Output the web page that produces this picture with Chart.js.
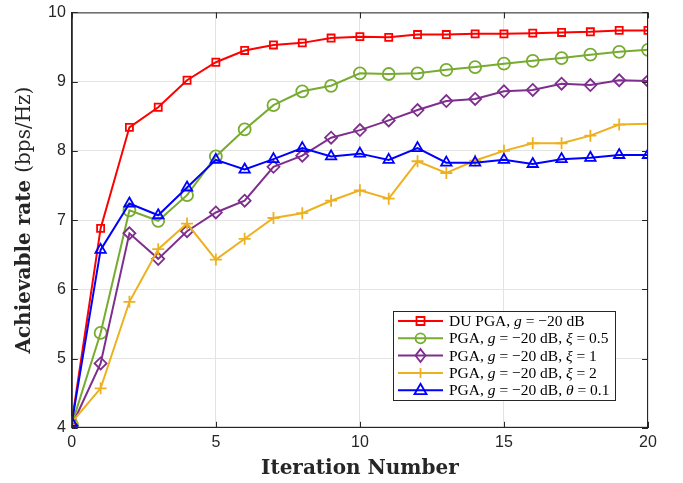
<!DOCTYPE html>
<html>
<head>
<meta charset="utf-8">
<script src="https://cdn.jsdelivr.net/npm/chart.js@4.4.1/dist/chart.umd.min.js"></script>
<style>
  html, body { margin: 0; padding: 0; background: #fff; }
  #wrap { width: 683px; height: 483px; }
</style>
</head>
<body>
<div id="wrap"><canvas id="canvas" width="683" height="483"></canvas></div>
<script>
const iterations = [0, 1, 2, 3, 4, 5, 6, 7, 8, 9, 10, 11, 12, 13, 14, 15, 16, 17, 18, 19, 20];

const duPga = [4.08, 6.88, 8.34, 8.63, 9.02, 9.28, 9.45, 9.53, 9.56, 9.63, 9.65, 9.64, 9.68, 9.68, 9.69, 9.69, 9.70, 9.71, 9.72, 9.74, 9.74];
const pgaXi05 = [4.05, 5.37, 7.14, 6.99, 7.36, 7.92, 8.31, 8.66, 8.86, 8.94, 9.12, 9.11, 9.12, 9.17, 9.21, 9.26, 9.30, 9.34, 9.39, 9.43, 9.46];
const pgaXi1 = [4.03, 4.93, 6.81, 6.44, 6.84, 7.11, 7.28, 7.77, 7.93, 8.19, 8.30, 8.44, 8.59, 8.72, 8.75, 8.86, 8.88, 8.97, 8.95, 9.02, 9.01];
const pgaXi2 = [4.08, 4.57, 5.82, 6.58, 6.95, 6.43, 6.73, 7.03, 7.10, 7.28, 7.43, 7.31, 7.85, 7.68, 7.86, 8.00, 8.11, 8.11, 8.22, 8.38, 8.39];
const pgaTheta = [4.07, 6.57, 7.24, 7.07, 7.47, 7.87, 7.73, 7.88, 8.04, 7.92, 7.96, 7.87, 8.04, 7.83, 7.83, 7.87, 7.81, 7.88, 7.90, 7.94, 7.94];

// *x* marks italic math letters in legend labels
const seriesLabels = [
  "DU PGA, *g* = \u221220 dB",
  "PGA, *g* = \u221220 dB, *\u03be* = 0.5",
  "PGA, *g* = \u221220 dB, *\u03be* = 1",
  "PGA, *g* = \u221220 dB, *\u03be* = 2",
  "PGA, *g* = \u221220 dB, *\u03b8* = 0.1",
];
const seriesColors = ["#FF0000", "#77AC30", "#7E2F8E", "#EDB120", "#0000FF"];
const seriesMarkers = ["rect", "circle", "rectRot", "cross", "triangle"];
const seriesValues = [duPga, pgaXi05, pgaXi1, pgaXi2, pgaTheta];

const xTicks = [0, 5, 10, 15, 20];
const yTicks = [4, 5, 6, 7, 8, 9, 10];
const yTitleBold = "Achievable rate ";
const yTitleRest = "(bps/Hz)";

const ctx = document.getElementById("canvas").getContext("2d");

function drawMarker(c, style, x, y, color) {
  c.save();
  c.strokeStyle = color;
  c.lineWidth = 1.8;
  c.beginPath();
  if (style === "rect") {
    c.rect(x - 4, y - 4, 8, 8);
  } else if (style === "circle") {
    c.arc(x, y, 5, 0, 2 * Math.PI);
  } else if (style === "rectRot") {
    c.moveTo(x, y - 6.5); c.lineTo(x + 5, y); c.lineTo(x, y + 6.5); c.lineTo(x - 5, y); c.closePath();
  } else if (style === "cross") {
    c.moveTo(x - 5, y); c.lineTo(x + 5, y); c.moveTo(x, y - 5); c.lineTo(x, y + 5);
  } else if (style === "triangle") {
    c.moveTo(x, y - 6.5); c.lineTo(x + 6, y + 4); c.lineTo(x - 6, y + 4); c.closePath();
  }
  c.stroke();
  c.restore();
}

const frameAndLegend = {
  id: "frameAndLegend",
  afterDraw(chart) {
    const c = chart.ctx;
    const a = chart.chartArea;
    const sx = chart.scales.x, sy = chart.scales.y;
    c.save();
    // box
    c.strokeStyle = "#262626";
    c.lineWidth = 1;
    c.strokeRect(a.left + 0.5, a.top + 0.5, a.right - a.left - 1, a.bottom - a.top - 1);
    // inward ticks
    c.beginPath();
    xTicks.forEach((v) => {
      const px = Math.round(sx.getPixelForValue(v)) + 0.5;
      c.moveTo(px, a.bottom); c.lineTo(px, a.bottom - 6);
      c.moveTo(px, a.top); c.lineTo(px, a.top + 6);
    });
    yTicks.forEach((v) => {
      const py = Math.round(sy.getPixelForValue(v)) + 0.5;
      c.moveTo(a.left, py); c.lineTo(a.left + 6, py);
      c.moveTo(a.right, py); c.lineTo(a.right - 6, py);
    });
    c.stroke();

    // y title: bold words + regular unit
    c.save();
    c.translate(25, (a.top + a.bottom) / 2);
    c.rotate(-Math.PI / 2);
    c.fillStyle = "#262626";
    c.textBaseline = "middle";
    c.font = "bold 20px 'DejaVu Serif'";
    const w1 = c.measureText(yTitleBold).width;
    c.font = "20px 'DejaVu Serif'";
    const w2 = c.measureText(yTitleRest).width;
    let tx = -(w1 + w2) / 2;
    c.font = "bold 20px 'DejaVu Serif'";
    c.fillText(yTitleBold, tx, 0);
    c.font = "20px 'DejaVu Serif'";
    c.fillText(yTitleRest, tx + w1, 0);
    c.restore();

    // legend
    const lx = 393, ly = 311, lw = 222, lh = 89, rowH = 17.3;
    c.fillStyle = "#fff";
    c.fillRect(lx, ly, lw, lh);
    c.strokeStyle = "#262626";
    c.strokeRect(lx + 0.5, ly + 0.5, lw, lh);
    c.textBaseline = "middle";
    seriesLabels.forEach((label, i) => {
      const y = ly + 10 + i * rowH;
      c.strokeStyle = seriesColors[i];
      c.lineWidth = 2;
      c.beginPath();
      c.moveTo(lx + 5, y); c.lineTo(lx + 50, y);
      c.stroke();
      drawMarker(c, seriesMarkers[i], lx + 27.5, y, seriesColors[i]);
      let tx = lx + 56;
      c.fillStyle = "#000";
      label.split("*").forEach((part, k) => {
        c.font = (k % 2 === 1 ? "italic " : "") + "15.5px 'Liberation Serif'";
        c.fillText(part, tx, y + 1);
        tx += c.measureText(part).width;
      });
    });
    c.restore();
  },
};

new Chart(ctx, {
  type: "line",
  data: {
    datasets: seriesValues.map((vals, i) => ({
      label: seriesLabels[i],
      data: vals.map((v, j) => ({ x: iterations[j], y: v })),
      borderColor: seriesColors[i],
      backgroundColor: "rgba(0,0,0,0)",
      borderWidth: 2,
      pointStyle: seriesMarkers[i],
      pointRadius: seriesMarkers[i] === "rect" ? 5 : 6,
      pointBorderColor: seriesColors[i],
      pointBackgroundColor: "rgba(0,0,0,0)",
      pointBorderWidth: 1.8,
      tension: 0,
      order: 5 - i,
    })),
  },
  options: {
    responsive: false,
    animation: false,
    layout: { padding: { top: 0, right: 35, left: 42, bottom: 2 } },
    plugins: { legend: { display: false }, tooltip: { enabled: false } },
    scales: {
      x: {
        type: "linear",
        min: 0,
        max: 20,
        afterBuildTicks: (axis) => { axis.ticks = xTicks.map((v) => ({ value: v })); },
        grid: { color: "#e3e3e3", drawTicks: false },
        border: { color: "#262626" },
        ticks: { color: "#262626", font: { family: "Liberation Sans", size: 16 }, padding: 5, maxRotation: 0 },
        title: {
          display: true,
          text: "Iteration Number",
          color: "#262626",
          font: { family: "DejaVu Serif", size: 20, weight: "bold" },
          padding: { top: 0, bottom: 0 },
        },
      },
      y: {
        min: 4,
        max: 10,
        afterBuildTicks: (axis) => { axis.ticks = yTicks.map((v) => ({ value: v })); },
        grid: { color: "#e3e3e3", drawTicks: false },
        border: { color: "#262626" },
        ticks: { color: "#262626", font: { family: "Liberation Sans", size: 16, lineHeight: 0.8 }, padding: 6 },
      },
    },
  },
  plugins: [frameAndLegend],
});
</script>
</body>
</html>
